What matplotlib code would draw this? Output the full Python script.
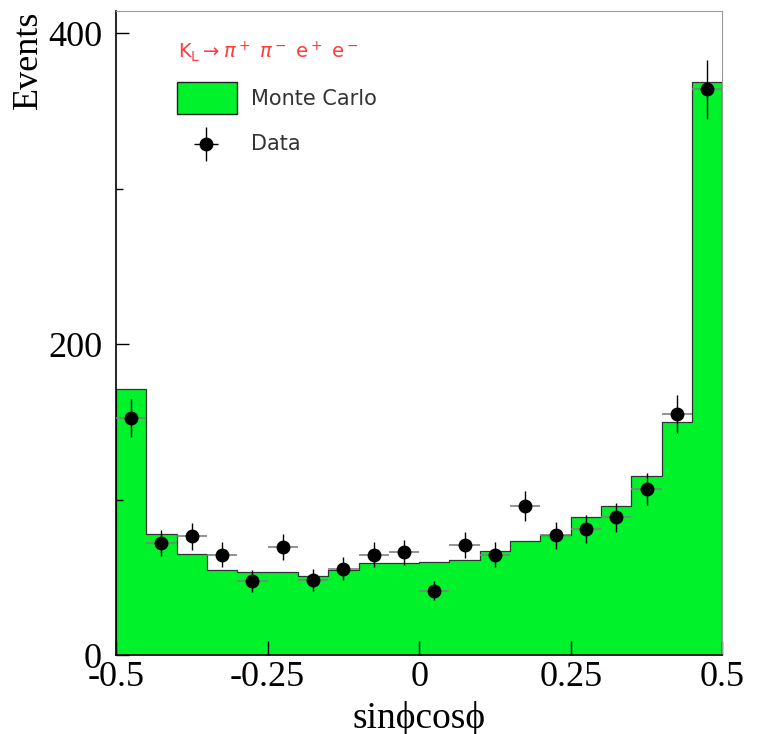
import numpy as np
import matplotlib
matplotlib.use("Agg")
import matplotlib.pyplot as plt
from matplotlib.patches import Rectangle
from matplotlib.ticker import MultipleLocator

# ---- data ----
bin_edges = [-0.5, -0.45, -0.4, -0.35, -0.3, -0.25, -0.2, -0.15, -0.1, -0.05, 0.0,
             0.05, 0.1, 0.15, 0.2, 0.25, 0.3, 0.35, 0.4, 0.45, 0.5]
mc_counts = [171, 78, 65, 55, 53.5, 53.5, 51, 55, 59, 59,
             60, 61, 67, 73.5, 77, 88.5, 96, 115.5, 150, 368.5]
data_counts = [152.5, 72, 76.5, 64.5, 47.5, 69.5, 48.5, 55.5, 64.5, 66,
               41.5, 71, 64.5, 96, 77, 81, 88.5, 107, 155, 364]
data_err = [12.5, 8.5, 8.7, 8.0, 6.9, 8.3, 7.0, 7.5, 8.0, 8.1,
            6.4, 8.4, 8.0, 9.8, 8.8, 9.0, 9.4, 10.3, 12.4, 19]
xticks = [-0.5, -0.25, 0, 0.25, 0.5]
xtick_labels = ["-0.5", "-0.25", "0", "0.25", "0.5"]
yticks = [0, 200, 400]

edges = np.array(bin_edges)
centers = 0.5 * (edges[:-1] + edges[1:])
halfw = 0.5 * np.diff(edges)

plt.rcParams['mathtext.fontset'] = 'dejavusans'
serif = ['Liberation Serif', 'DejaVu Serif']

fig = plt.figure(figsize=(7.58, 7.34), dpi=100)
ax = fig.add_axes([0.153, 0.1076, 0.8, 0.8778])

green = '#00f22a'
ax.stairs(mc_counts, edges, fill=True, color=green, zorder=1)
ax.stairs(mc_counts, edges, fill=False, color='#333333', lw=0.9, zorder=2)

ax.errorbar(centers, data_counts, xerr=halfw, fmt='none', ecolor='#808080',
            elinewidth=1.2, capsize=0, zorder=3)
ax.errorbar(centers, data_counts, yerr=data_err, fmt='o', color='black',
            ms=9, ecolor='black', elinewidth=1.0, capsize=0, zorder=4)

ax.set_xlim(-0.5, 0.5)
ax.set_ylim(0, 414.6)
ax.set_xticks(xticks)
ax.set_xticklabels(xtick_labels)
ax.set_yticks(yticks)
ax.yaxis.set_minor_locator(MultipleLocator(100))
ax.tick_params(axis='both', which='major', direction='in', length=9, width=1,
               labelsize=26, top=False, right=False)
ax.tick_params(axis='x', which='major', pad=4, length=10)
ax.tick_params(axis='y', which='major', pad=10)
ax.tick_params(axis='y', which='minor', direction='in', length=5, width=1)
for lab in ax.get_xticklabels() + ax.get_yticklabels():
    lab.set_fontfamily(serif)

ax.spines['top'].set_color('#999999')
ax.spines['right'].set_color('#999999')
ax.spines['left'].set_linewidth(1.2)
ax.spines['bottom'].set_linewidth(1.2)

ax.set_ylabel('Events', fontfamily=serif, fontsize=26, loc='top', labelpad=2)
ax.set_xlabel('sin\u03d5cos\u03d5', fontfamily=serif, fontsize=27, labelpad=5)

# legend-like annotations
ax.text(-0.398, 388, r'$\mathrm{K_L} \rightarrow \pi^+\ \pi^-\ \mathrm{e^+\ e^-}$',
        color='#ff3a3a', fontsize=14, va='center', ha='left')
ax.add_patch(Rectangle((-0.4, 348), 0.099, 20.5, facecolor=green, edgecolor='#222222',
                       lw=1.0, zorder=5))
ax.text(-0.278, 358, 'Monte Carlo', fontsize=15, va='center', ha='left',
        color='#333333', fontfamily='DejaVu Sans')
ax.errorbar([-0.351], [329], xerr=[0.02], yerr=[11], fmt='o', color='black', ms=9,
            ecolor='black', elinewidth=1.0, capsize=0, zorder=5)
ax.text(-0.278, 329, 'Data', fontsize=15, va='center', ha='left',
        color='#333333', fontfamily='DejaVu Sans')

fig.savefig('out.png', dpi=100)
